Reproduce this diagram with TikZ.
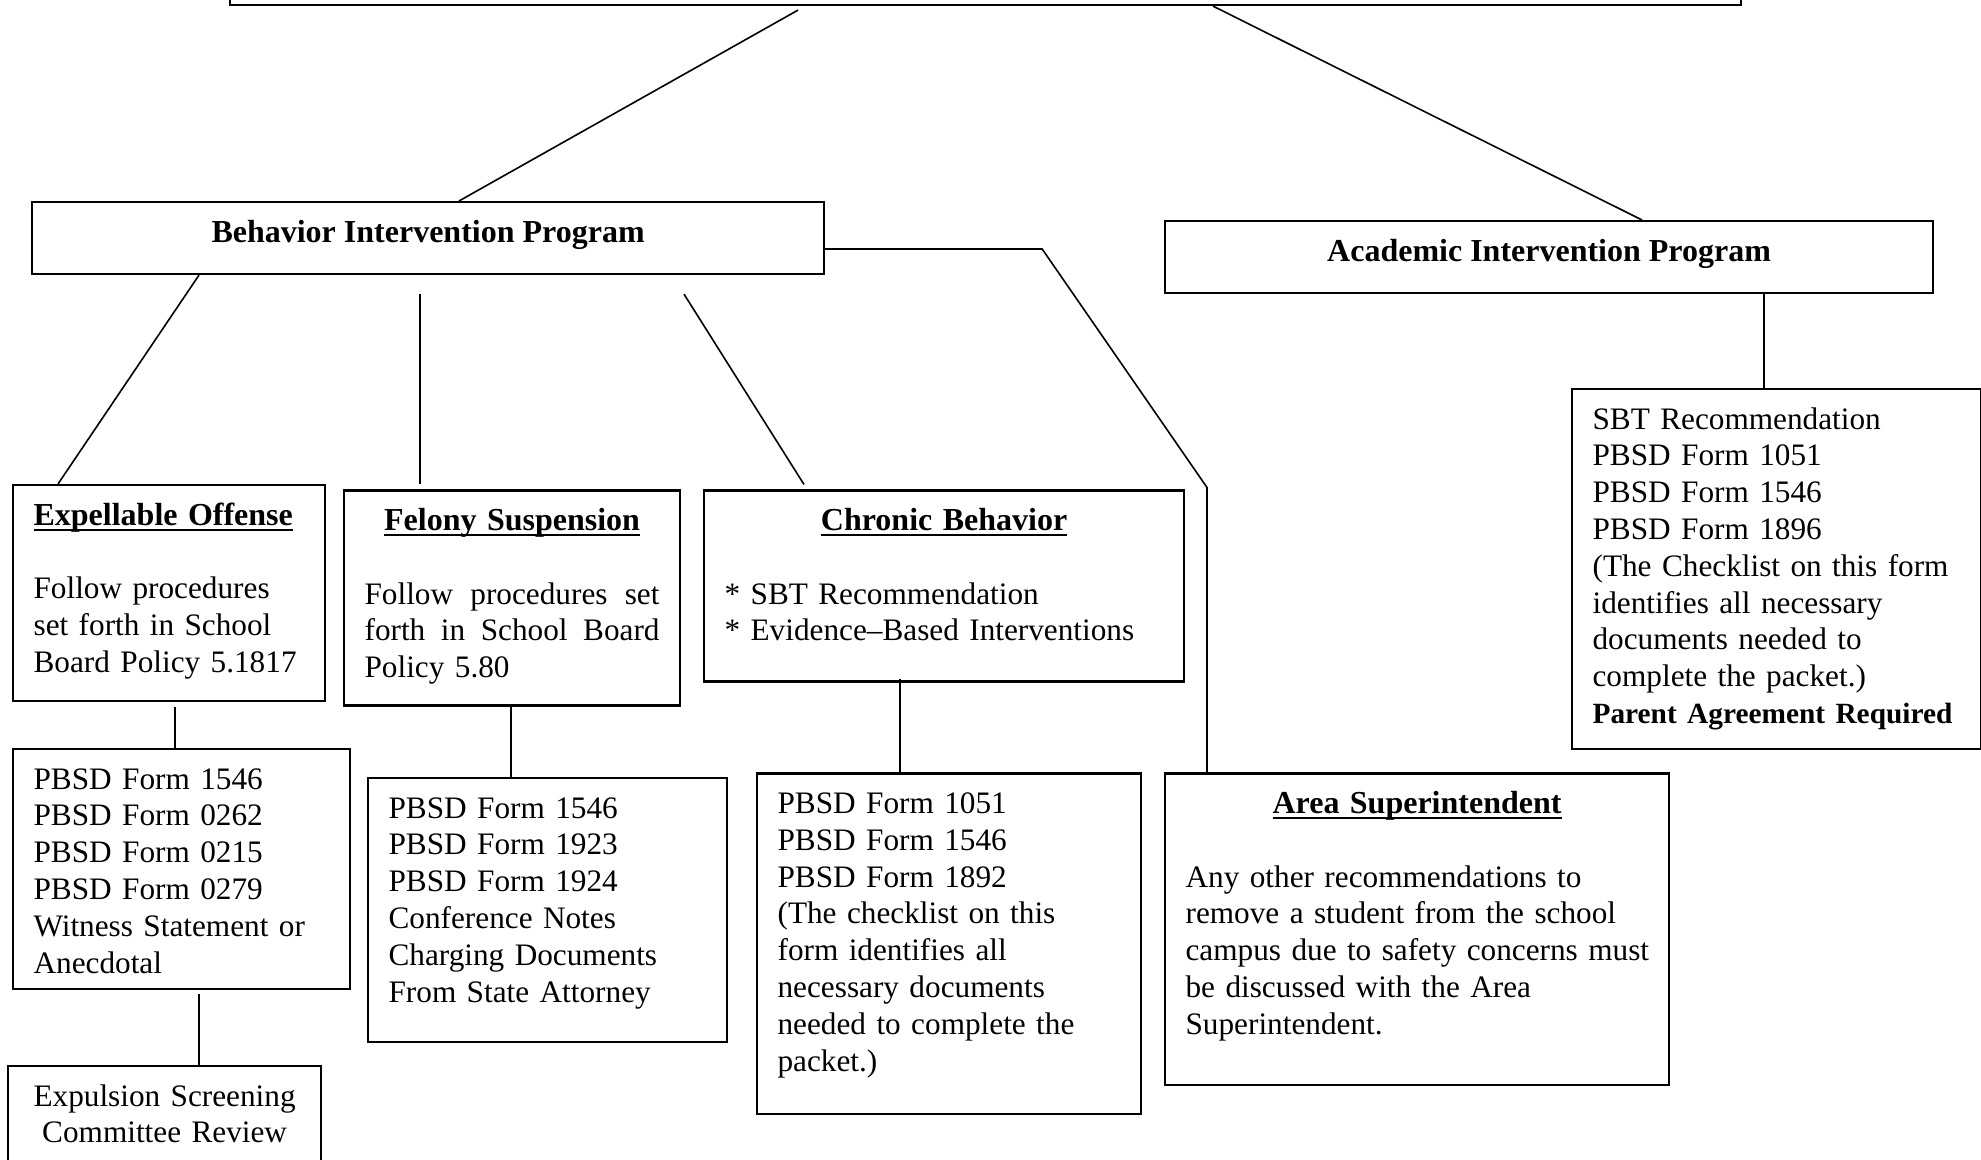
\documentclass[tikz,border=0pt]{standalone}
\usepackage{fontspec}
\setmainfont{Liberation Serif}
\usepackage{tikz}
\usetikzlibrary{calc}
\hyphenpenalty=10000
\exhyphenpenalty=10000
\newsavebox{\headbox}
\newcommand{\ulhead}[1]{\sbox{\headbox}{\fontsize{12}{13.8}\selectfont\bfseries #1}\rlap{\usebox{\headbox}}\rule[-2.1pt]{\wd\headbox}{0.8pt}}
\newcommand{\boxhead}[1]{\makebox[\hsize]{\ulhead{#1}}}

\begin{document}
\begin{tikzpicture}[x=0.375pt, y=-0.375pt,
    box/.style={draw, line width=0.8pt, anchor=north west, inner xsep=7.7pt, inner ysep=0pt,
        align=left, text height=15pt, font=\fontsize{11.72}{13.8}\selectfont},
    titlebox/.style={draw, line width=0.8pt, anchor=north west, inner sep=0pt,
        text height=8.5pt, text depth=5pt, font=\fontsize{12}{13.8}\selectfont\bfseries},
    link/.style={line width=0.6pt}]
    % Page frame
    \useasboundingbox (0,0) rectangle (1981,1160);
    \clip (0,0) rectangle (1981,1160);
    % Draw program boxes
    \node[titlebox, minimum width=566.6pt, minimum height=39pt] (top) at (229,-100) {};
    \node[titlebox, minimum width=297pt, minimum height=27pt] (bip) at (31,201) {Behavior Intervention Program};
    \node[titlebox, minimum width=288pt, minimum height=27pt] (aip) at (1164,220) {Academic Intervention Program};
    % Draw behavior branches
    \node[box, text width=101.6pt, text depth=66pt] (expel) at (12,484)
        {\ulhead{Expellable Offense}\\[13.8pt]
         Follow procedures\\set forth in School\\Board Policy 5.1817};
    \node[box, text width=110.6pt, text depth=65.6pt] (fel) at (343,489.5)
        {\boxhead{Felony Suspension}\\[13.8pt]
         Follow\hfill procedures\hfill set\\forth\hfill in\hfill School\hfill Board\\Policy 5.80};
    \node[box, text width=164.6pt, text depth=56.6pt] (chron) at (703,489.5)
        {\boxhead{Chronic Behavior}\\[13.8pt]
         {*} SBT Recommendation\\{*} Evidence--Based Interventions};
    % Draw form lists
    \node[box, text width=111pt, text depth=75pt] (form1) at (12,748)
        {PBSD Form 1546\\PBSD Form 0262\\PBSD Form 0215\\PBSD Form 0279\\Witness Statement or\\Anecdotal};
    \node[box, align=center, text width=102pt, text depth=37.5pt] (expul) at (7,1065)
        {Expulsion Screening\\Committee Review};
    \node[box, text width=119.2pt, text depth=84pt] (felform) at (367,777)
        {PBSD Form 1546\\PBSD Form 1923\\PBSD Form 1924\\Conference Notes\\Charging Documents\\From State Attorney};
    \node[box, text width=128.6pt, text depth=112.5pt] (chronform) at (756,772.5)
        {PBSD Form 1051\\PBSD Form 1546\\PBSD Form 1892\\(The checklist on this\\form identifies all\\necessary documents\\needed to complete the\\packet.)};
    \node[box, text width=173.6pt, text depth=101.8pt] (area) at (1164,772.5)
        {\boxhead{Area Superintendent}\\[13.8pt]
         Any other recommendations to\\\mbox{remove a student from the school}\\\mbox{campus due to safety concerns must}\\be discussed with the Area\\Superintendent.};
    \node[box, text width=138pt, text depth=120pt] (sbt) at (1571,388)
        {SBT Recommendation\\PBSD Form 1051\\PBSD Form 1546\\PBSD Form 1896\\(The Checklist on this form\\identifies all necessary\\documents needed to\\complete the packet.)\\\mbox{\fontsize{11}{13.8}\selectfont\bfseries Parent Agreement Required}};
    % Draw connectors
    \draw[link] ($(top.south west)+(569,4)$) -- ($(bip.north west)+(428,0)$);
    \draw[link] ($(top.south west)+(984,0)$) -- ($(aip.north west)+(478,0)$);
    \draw[link] ($(bip.south west)+(168,0)$) -- ($(expel.north west)+(46,0)$);
    \draw[link] ($(bip.south west)+(389,19)$) -- ($(fel.north west)+(77,-5)$);
    \draw[link] ($(bip.south west)+(653,19)$) -- ($(chron.north west)+(101,-5)$);
    \draw[link] ($(bip.north east)+(0,48)$) -- ++(217,0) -- ($(area.north west)+(43,-285)$) -- ($(area.north west)+(43,0)$);
    \draw[link] ($(aip.south west)+(600,0)$) -- ($(sbt.north west)+(193,0)$);
    \draw[link] ($(expel.south west)+(163,5)$) -- ($(form1.north west)+(163,0)$);
    \draw[link] ($(form1.south west)+(187,4)$) -- ($(expul.north west)+(192,0)$);
    \draw[link] ($(fel.south west)+(168,0)$) -- ($(felform.north west)+(144,0)$);
    \draw[link] ($(chron.south west)+(197,-4)$) -- ($(chronform.north west)+(144,0)$);
\end{tikzpicture}
\end{document}
